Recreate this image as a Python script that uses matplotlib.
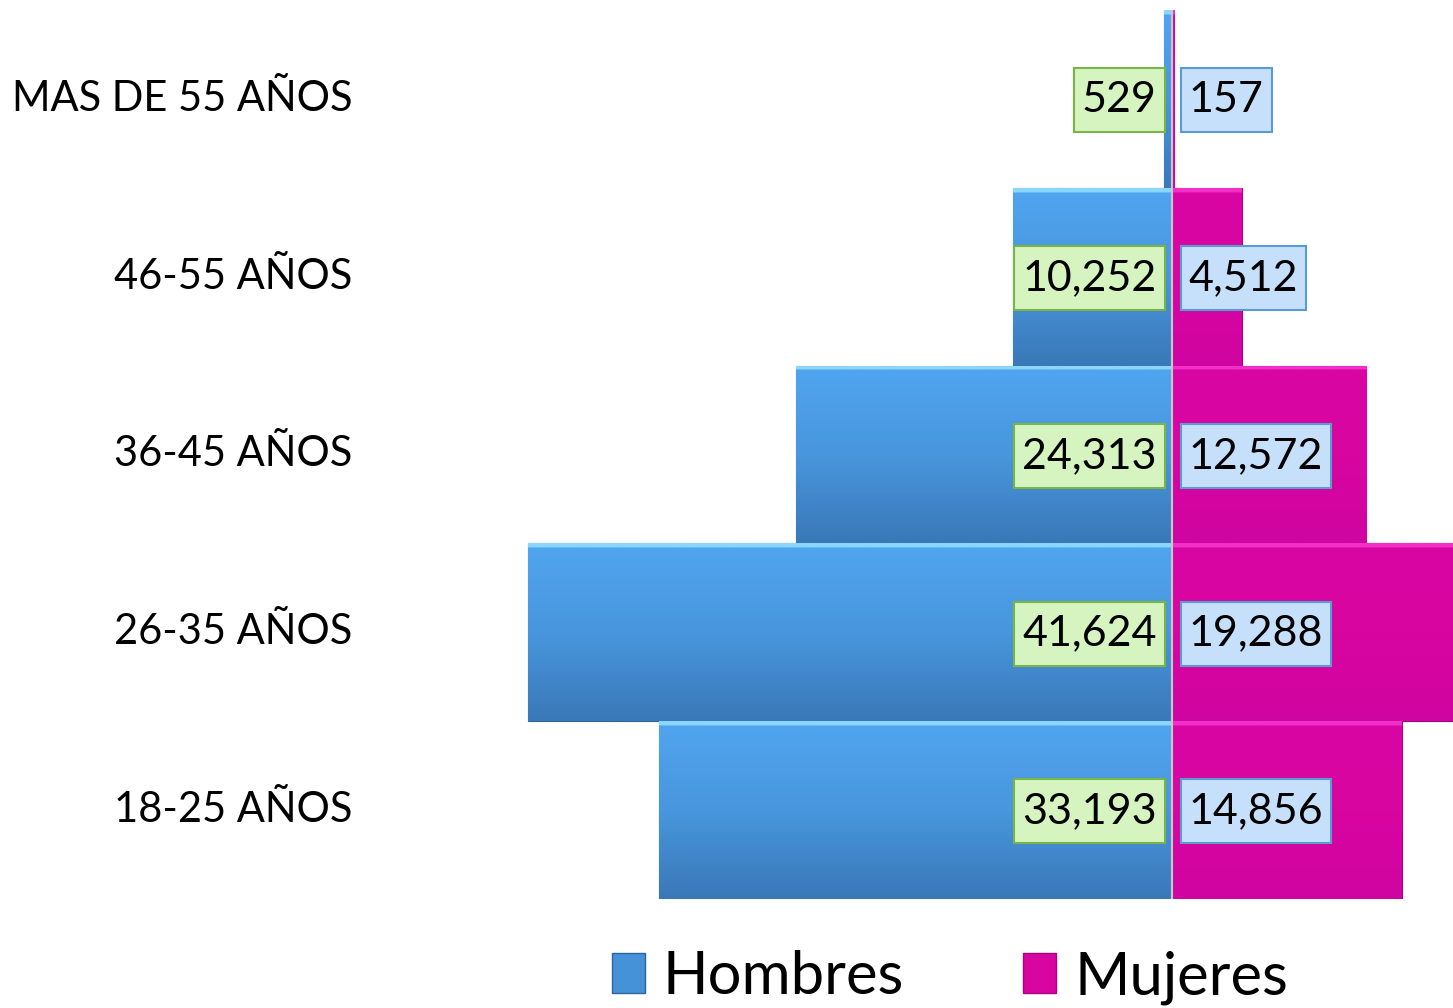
import numpy as np
import matplotlib
matplotlib.use("Agg")
import matplotlib.pyplot as plt
from matplotlib.colors import LinearSegmentedColormap
from matplotlib.patches import Patch
from matplotlib.path import Path
from matplotlib.transforms import blended_transform_factory

plt.rcParams["font.family"] = ["Lato", "DejaVu Sans"]

categorias = ["18-25 AÑOS", "26-35 AÑOS", "36-45 AÑOS", "46-55 AÑOS", "MAS DE 55 AÑOS"]
hombres = [33193, 41624, 24313, 10252, 529]
mujeres = [14856, 19288, 12572, 4512, 157]

W, H = 1453, 1008
fig = plt.figure(figsize=(W / 100, H / 100), dpi=100)
ax = fig.add_axes([370 / W, 109 / H, 1 - 370 / W, (899 - 10) / H])

y = np.arange(len(categorias))
bars_h = ax.barh(y, [-v for v in hombres], height=1.0, color="#4592d8",
                 edgecolor="#2f6499", linewidth=0.8)
bars_m = ax.barh(y, mujeres, height=1.0, color="#d905a1",
                 edgecolor="#a8047c", linewidth=0.8)

# vertical gradient inside every bar
blue_cmap = LinearSegmentedColormap.from_list("b", ["#3a78b8", "#4896dd", "#50a5ef", "#8ad6ff"])
mag_cmap = LinearSegmentedColormap.from_list("m", ["#d004a0", "#d805a1", "#da06a3", "#f230c8"])
grad = np.linspace(0, 1, 400).reshape(-1, 1)
grad = np.where(grad > 0.975, 1.0, grad * 0.66 / 0.975)
for bars, cmap in ((bars_h, blue_cmap), (bars_m, mag_cmap)):
    for b in bars:
        x0, y0 = b.get_x(), b.get_y()
        im = ax.imshow(grad, cmap=cmap, aspect="auto", origin="lower",
                       extent=[x0, x0 + b.get_width(), y0, y0 + b.get_height()],
                       vmin=0, vmax=1, zorder=b.get_zorder())
        im.set_clip_path(b)

ax.set_xlim(-(1172 - 370) / 0.01547, (1453 - 1172) / 0.01547)
ax.set_ylim(-0.5, len(categorias) - 0.5)

ax.axvline(0, color="#c8c8c8", lw=1.5, zorder=3)
for s in ax.spines.values():
    s.set_visible(False)
ax.set_xticks([])
ax.set_yticks([])


def caja(x0, y0, width, height, mutation_size):
    # rectangle with more vertical padding than horizontal
    px, py = 8, 13
    x0, x1 = x0 - px, x0 + width + px
    y0, y1 = y0 - py, y0 + height + py
    return Path([(x0, y0), (x1, y0), (x1, y1), (x0, y1), (x0, y0)], closed=True)


for yi, v in zip(y, hombres):
    ax.annotate(f"{v:,}", xy=(0, yi), xytext=(-11, -1), textcoords="offset points",
                ha="right", va="center", fontsize=31, color="black", zorder=5,
                bbox=dict(boxstyle=caja, fc="#d5f4c0", ec="#78b545", lw=1.5))
for yi, v in zip(y, mujeres):
    ax.annotate(f"{v:,}", xy=(0, yi), xytext=(12, -1), textcoords="offset points",
                ha="left", va="center", fontsize=31, color="black", zorder=5,
                bbox=dict(boxstyle=caja, fc="#c6e0fb", ec="#5b9bd5", lw=1.5))

trans = blended_transform_factory(fig.transFigure, ax.transData)
for yi, c in zip(y, categorias):
    ax.text(352 / W, yi, c, transform=trans, ha="right", va="center",
            fontsize=30, color="black")

handles = [Patch(facecolor="#4592d8", edgecolor="#2f6499", label="Hombres"),
           Patch(facecolor="#d905a1", edgecolor="#a8047c", label="Mujeres")]
fig.legend(handles=handles, loc="lower center", bbox_to_anchor=(950 / W, -0.05),
           ncol=2, frameon=False, fontsize=43, handlelength=0.55, handleheight=0.65,
           handletextpad=0.3, columnspacing=2.0)

fig.savefig("out.png", dpi=100)
